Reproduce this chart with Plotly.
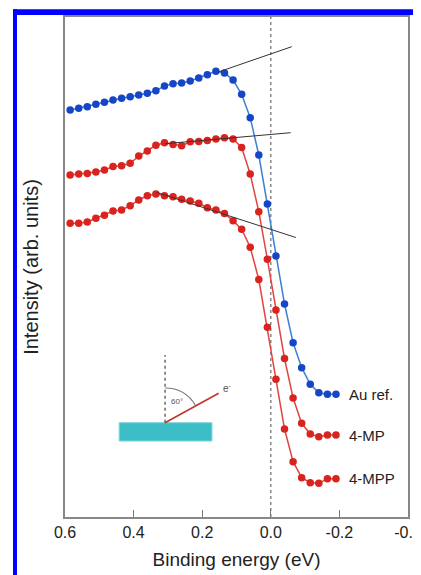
import plotly.graph_objects as go

# Binding energy (eV)
energy = [0.585, 0.56, 0.535, 0.51, 0.485, 0.46, 0.435, 0.41, 0.385, 0.36,
          0.335, 0.31, 0.285, 0.26, 0.235, 0.21, 0.185, 0.16, 0.135, 0.11,
          0.085, 0.06, 0.035, 0.01, -0.015, -0.04, -0.065, -0.09, -0.115,
          -0.14, -0.165, -0.19]

au_ref = [407, 408.7, 410.3, 412.7, 414.7, 417, 418.7, 420.3, 422, 423.7,
          426.3, 431, 433.3, 434, 436, 439, 442.3, 445.7, 444, 437,
          422.7, 399.3, 362, 313, 261, 213, 174.3, 149.3, 132.7, 124.3,
          122.7, 122.7]

mp4 = [342, 343, 343.5, 345, 347, 350.5, 351.3, 353.8, 361, 366,
       371.7, 374.3, 372.5, 371.2, 375.3, 375.5, 376.5, 378, 379.3, 378,
       369.5, 343, 305.3, 257.7, 207, 158.5, 119, 93.7, 83, 80.3,
       82, 82]

mpp4 = [293.7, 293.7, 295, 298.7, 301.7, 306, 307, 311.3, 317, 321.3,
        323, 321.3, 320.3, 317.7, 316, 313.7, 309.3, 307, 303.5, 296.3,
        287.7, 269.7, 237.5, 189.7, 137.7, 88, 55.3, 39.3, 34.3, 33.7,
        38.3, 38.3]

# Tangent (linear extrapolation) lines
tan_au_x, tan_au_y = [0.153, -0.061], [445, 470.3]
tan_mp_x, tan_mp_y = [0.308, -0.058], [373.3, 384.3]
tan_mpp_x, tan_mpp_y = [0.332, -0.073], [324.5, 279.5]

labels = ["Au ref.", "4-MP", "4-MPP"]
label_y = [123, 82, 38.7]

BLUE_M = "#1546C8"
BLUE_L = "#3C80D6"
RED_M = "#D8231F"
RED_L = "#E2453F"

fig = go.Figure()

# dashed Fermi level line
fig.add_shape(type="line", xref="x", yref="paper", x0=0, x1=0, y0=0, y1=1,
              line=dict(color="#777777", width=1.3, dash="dot"), layer="below")

for y, mc, lc, name in [(au_ref, BLUE_M, BLUE_L, labels[0]),
                        (mp4, RED_M, RED_L, labels[1]),
                        (mpp4, RED_M, RED_L, labels[2])]:
    fig.add_trace(go.Scatter(x=energy, y=y, mode="lines+markers", name=name,
                             line=dict(color=lc, width=1.5),
                             marker=dict(color=mc, size=7.5), showlegend=False))

for tx, ty in [(tan_au_x, tan_au_y), (tan_mp_x, tan_mp_y), (tan_mpp_x, tan_mpp_y)]:
    fig.add_trace(go.Scatter(x=tx, y=ty, mode="lines",
                             line=dict(color="#333333", width=1), showlegend=False))

for lab, ly in zip(labels, label_y):
    fig.add_annotation(x=-0.222, y=ly, text=lab, showarrow=False, xanchor="left",
                       yanchor="middle", font=dict(size=15, color="#222222"))

# inset: sample geometry
fig.add_shape(type="rect", xref="x", yref="y", x0=0.442, x1=0.1716, y0=76, y1=94.3,
              fillcolor="#3BBEC6", line=dict(color="#7FD4D8", width=1))
fig.add_shape(type="line", xref="x", yref="y", x0=0.3083, x1=0.3083, y0=94.3, y1=162,
              line=dict(color="#444444", width=1.2, dash="dot"))
fig.add_shape(type="line", xref="x", yref="y", x0=0.3083, x1=0.152, y0=94.3, y1=123.7,
              line=dict(color="#C0362E", width=1.6))
fig.add_shape(type="path", xref="x", yref="y",
              path="M 0.3083,129 Q 0.2492,129 0.2196,111.5",
              line=dict(color="#777777", width=1.2))
fig.add_annotation(x=0.274, y=115.3, text="60°", showarrow=False,
                   font=dict(size=8, color="#555555"))
fig.add_annotation(x=0.126, y=128.7, text="e<sup>-</sup>", showarrow=False,
                   font=dict(size=10, color="#555555"))

# blue frame of the cropped figure
fig.add_shape(type="rect", xref="paper", yref="paper", x0=-0.1516, x1=-0.14,
              y0=-0.3, y1=1.0154, fillcolor="#0000FF", line=dict(width=0))
fig.add_shape(type="rect", xref="paper", yref="paper", x0=-0.1516, x1=1.2,
              y0=1.004, y1=1.0154, fillcolor="#0000FF", line=dict(width=0))

fig.update_layout(
    width=413, height=567,
    margin=dict(l=57, r=13, t=9, b=58),
    paper_bgcolor="white", plot_bgcolor="white",
    font=dict(family="Liberation Sans, Arial, sans-serif", color="#222222"),
)
fig.update_xaxes(range=[0.6, -0.4], tickvals=[0.6, 0.4, 0.2, 0.0, -0.2, -0.4],
                 ticktext=["0.6", "0.4", "0.2", "0.0", "-0.2", "-0.4"],
                 ticklabeloverflow="allow", automargin=False,
                 ticks="inside", ticklen=7, tickcolor="#777777", tickwidth=1.3,
                 showline=True, mirror=True, linecolor="#888888", linewidth=1.5,
                 showgrid=False, zeroline=False, tickfont=dict(size=16),
                 title=dict(text="Binding energy (eV)", font=dict(size=19), standoff=13))
fig.update_yaxes(range=[0, 500], showticklabels=False, ticks="", automargin=False,
                 showline=True, mirror=True, linecolor="#888888", linewidth=1.5,
                 showgrid=False, zeroline=False,
                 title=dict(text="Intensity (arb. units)", font=dict(size=20), standoff=19))

fig.write_html("out.html")
